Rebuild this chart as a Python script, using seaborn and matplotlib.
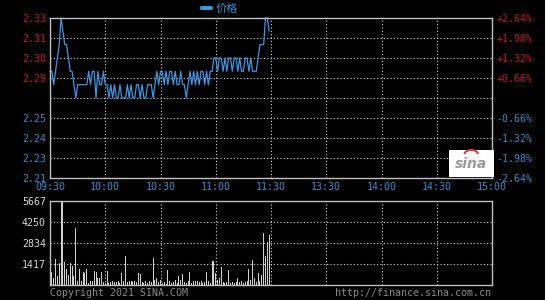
import numpy as np
import pandas as pd
import matplotlib
matplotlib.use("Agg")
import matplotlib.pyplot as plt
from matplotlib.patches import Arc
import seaborn as sns

# ---------------- data ----------------
time_labels = ["09:30", "10:00", "10:30", "11:00", "11:30", "13:30", "14:00", "14:30", "15:00"]
price_tick_values = [2.33, 2.315, 2.30, 2.285, 2.27, 2.255, 2.24, 2.225, 2.21]
price_tick_labels = ["2.33", "2.31", "2.30", "2.29", "", "2.25", "2.24", "2.23", "2.21"]
pct_tick_labels = ["+2.64%", "+1.98%", "+1.32%", "+0.66%", "", "-0.66%", "-1.32%", "-1.98%", "-2.64%"]
vol_tick_values = [5667, 4250, 2834, 1417]
vol_tick_labels = ["5667", "4250", "2834", "1417"]
prev_close = 2.27

price = [
    2.29, 2.29, 2.28, 2.29, 2.30, 2.31, 2.33, 2.32, 2.31, 2.31,
    2.30, 2.29, 2.29, 2.28, 2.27, 2.28, 2.28, 2.28, 2.28, 2.28,
    2.28, 2.29, 2.28, 2.29, 2.29, 2.27, 2.29, 2.28, 2.28, 2.29,
    2.28, 2.28, 2.27, 2.28, 2.27, 2.28, 2.27, 2.27, 2.28, 2.27,
    2.27, 2.27, 2.28, 2.27, 2.28, 2.27, 2.27, 2.28, 2.28, 2.27,
    2.28, 2.27, 2.27, 2.28, 2.28, 2.28, 2.27, 2.28, 2.29, 2.28,
    2.29, 2.29, 2.28, 2.29, 2.28, 2.29, 2.29, 2.28, 2.29, 2.28,
    2.28, 2.29, 2.28, 2.28, 2.27, 2.28, 2.29, 2.28, 2.29, 2.28,
    2.29, 2.28, 2.29, 2.29, 2.28, 2.29, 2.28, 2.29, 2.29, 2.30,
    2.30, 2.29, 2.30, 2.30, 2.29, 2.30, 2.29, 2.30, 2.30, 2.29,
    2.30, 2.30, 2.29, 2.30, 2.29, 2.29, 2.30, 2.30, 2.29, 2.30,
    2.29, 2.29, 2.29, 2.30, 2.31, 2.31, 2.31, 2.33, 2.33, 2.32,
]

volume = [
    1400, 880, 470, 1750, 600, 1480, 5667, 5667, 1550, 1100,
    675, 1480, 1300, 600, 3825, 300, 1075, 250, 900, 800,
    1100, 150, 300, 300, 945, 900, 450, 500, 850, 200,
    150, 945, 150, 200, 250, 180, 200, 300, 150, 800,
    250, 1960, 200, 300, 250, 200, 300, 180, 800, 750,
    200, 150, 250, 150, 300, 200, 1800, 350, 450, 200,
    350, 150, 200, 100, 1010, 300, 150, 200, 350, 150,
    600, 350, 750, 200, 150, 300, 850, 150, 250, 300,
    250, 200, 300, 150, 200, 850, 300, 150, 1640, 1640,
    800, 350, 450, 1240, 200, 150, 200, 1010, 150, 200,
    150, 200, 450, 200, 300, 150, 200, 300, 1080, 350,
    1690, 450, 200, 800, 300, 650, 3500, 1960, 2925, 3375,
]

minutes = list(range(len(price)))
df = pd.DataFrame({"minute": minutes, "price": price, "volume": volume})

# ---------------- style ----------------
sns.set_theme(style="dark")
plt.rcParams["font.family"] = ["DejaVu Sans Mono", "Noto Sans CJK SC"]

BG = "black"
RED = "#c81e1e"
BLUE = "#3c8cc8"
LINE = "#3f95e0"
GRID = "#d8d8d8"
FRAME = "#c0c0c0"
GRAY = "#8a8a8a"
FS = 7.2

W, H = 545, 300
fig = plt.figure(figsize=(W / 100, H / 100), dpi=100, facecolor=BG)

def axrect(x0, y0, x1, y1):
    return [x0 / W, 1 - y1 / H, (x1 - x0) / W, (y1 - y0) / H]

ax = fig.add_axes(axrect(50, 18, 492, 178))
axv = fig.add_axes(axrect(50, 201, 492, 285))

grid_kw = dict(color=GRID, linestyle=(0, (1, 2)), linewidth=0.8)

for a in (ax, axv):
    a.set_facecolor(BG)
    for s in a.spines.values():
        s.set_color(FRAME)
        s.set_linewidth(1.0)
        s.set_visible(True)
    a.set_xlim(0, 240)
    a.grid(False)

# price line
sns.lineplot(data=df, x="minute", y="price", ax=ax, color=LINE, linewidth=0.9,
             label="价格", clip_on=False)
ax.set_ylim(prev_close * (1 - 0.0264), prev_close * (1 + 0.0264))
for v in price_tick_values[1:-1]:
    ax.axhline(v, **grid_kw, zorder=0)
for t in range(30, 240, 30):
    ax.axvline(t, **grid_kw, zorder=0)

ax.set_yticks(price_tick_values)
ax.set_yticklabels(price_tick_labels)
for lbl, v in zip(ax.get_yticklabels(), price_tick_values):
    lbl.set_color(RED if v > prev_close else BLUE)
    lbl.set_fontsize(FS)
ax.set_xticks(range(0, 241, 30))
ax.set_xticklabels(time_labels, fontsize=FS, color=BLUE)
ax.tick_params(axis="both", length=0, pad=3)
ax.set_xlabel("")
ax.set_ylabel("")

ax2 = ax.twinx()
ax2.set_ylim(ax.get_ylim())
ax2.set_yticks(price_tick_values)
ax2.set_yticklabels(pct_tick_labels)
for lbl, v in zip(ax2.get_yticklabels(), price_tick_values):
    lbl.set_color(RED if v > prev_close else BLUE)
    lbl.set_fontsize(FS)
ax2.tick_params(axis="y", length=0, pad=3)
ax2.grid(False)
for s in ax2.spines.values():
    s.set_visible(False)

leg = ax.legend(loc="lower center", bbox_to_anchor=(0.385, 0.985), frameon=False,
                handlelength=0.8, handletextpad=0.4, borderpad=0.1,
                prop={"family": ["Noto Sans CJK SC", "DejaVu Sans"], "size": 8})
for txt in leg.get_texts():
    txt.set_color(BLUE)
for h in leg.get_lines():
    h.set_linewidth(3)

# sina logo box
ax.text(0.953, 0.09, "sina", transform=ax.transAxes, ha="center", va="center",
        fontsize=10, fontstyle="italic", fontweight="bold", color="#9a9a9a",
        family="DejaVu Sans",
        bbox=dict(boxstyle="square,pad=0.45", facecolor="white", edgecolor="none"))
ax.add_patch(Arc((0.953, 0.15), 0.03, 0.05, theta1=0, theta2=180,
                 transform=ax.transAxes, color="#d04040", linewidth=1.5, zorder=5))

# volume bars
sns.barplot(data=df, x="minute", y="volume", ax=axv, native_scale=True,
            color="#cfcfcf", width=0.55, saturation=1, edgecolor="none", linewidth=0)
axv.set_xlim(0, 240)
axv.set_ylim(0, 5667)
for v in vol_tick_values[1:]:
    axv.axhline(v, **grid_kw, zorder=0)
for t in range(30, 240, 30):
    axv.axvline(t, **grid_kw, zorder=0)
axv.set_yticks(vol_tick_values)
axv.set_yticklabels(vol_tick_labels, fontsize=FS, color="#d8d8d8")
axv.set_xticks([])
axv.tick_params(axis="y", length=0, pad=3)
axv.set_xlabel("")
axv.set_ylabel("")

fig.text(50 / W, 1 - 293 / H, "Copyright 2021 SINA.COM", color=GRAY, fontsize=FS,
         ha="left", va="center")
fig.text(491 / W, 1 - 293 / H, "http://finance.sina.com.cn", color=GRAY, fontsize=FS,
         ha="right", va="center")

fig.savefig("out.png", dpi=100, facecolor=BG)
